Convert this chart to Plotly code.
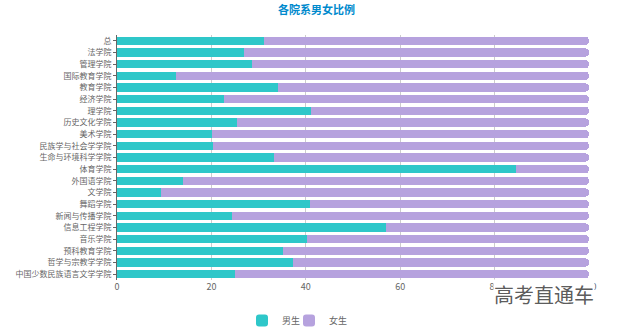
import plotly.graph_objects as go

categories = ["总", "法学院", "管理学院", "国际教育学院", "教育学院", "经济学院", "理学院",
              "历史文化学院", "美术学院", "民族学与社会学学院", "生命与环境科学学院", "体育学院",
              "外国语学院", "文学院", "舞蹈学院", "新闻与传播学院", "信息工程学院", "音乐学院",
              "预科教育学院", "哲学与宗教学学院", "中国少数民族语言文学学院"]
male = [31.1, 26.8, 28.6, 12.5, 34.1, 22.7, 41.1, 25.4, 20.2, 20.3, 33.3,
        84.5, 13.9, 9.4, 40.8, 24.4, 56.9, 40.2, 35.1, 37.2, 25.1]
female = [round(100 - m, 1) for m in male]
x_ticks = [0, 20, 40, 60, 80, 100]

font_family = "Noto Sans CJK SC, Noto Sans, sans-serif"

fig = go.Figure()
fig.add_trace(go.Bar(y=categories, x=male, name="男生", orientation="h", legend="legend",
                     marker=dict(color="#2ec7c9", line=dict(width=0))))
fig.add_trace(go.Bar(y=categories, x=female, name="女生", orientation="h", legend="legend2",
                     marker=dict(color="#b6a2de", line=dict(width=0))))

leg_common = dict(orientation="h", xref="container", yref="container", y=0.02,
                  yanchor="middle", xanchor="left", font=dict(size=9, color="#666"),
                  itemwidth=30, bgcolor="rgba(0,0,0,0)")

fig.update_layout(
    width=633, height=327,
    margin=dict(l=117, r=44, t=35, b=47),
    barmode="stack", bargap=0.3, barcornerradius=4,
    paper_bgcolor="white", plot_bgcolor="white",
    font=dict(family=font_family, size=9, color="#666"),
    title=dict(text="<b>各院系男女比例</b>", x=0.5, xanchor="center", y=0.968, yanchor="middle",
               yref="container", font=dict(size=11, color="#008acd", family=font_family)),
    showlegend=True,
    legend=dict(x=242 / 633, **leg_common),
    legend2=dict(x=289 / 633, **leg_common),
    xaxis=dict(range=[0, 100], tickvals=x_ticks, showgrid=True, gridcolor="#cccccc",
               gridwidth=1, zeroline=False, showline=False, ticks="",
               tickfont=dict(size=9, color="#666")),
    yaxis=dict(autorange="reversed", showline=True, linecolor="#666", linewidth=1,
               ticks="outside", ticklen=3, tickcolor="#666", showgrid=False,
               automargin=False, tickfont=dict(size=8, color="#666")),
)
fig.add_annotation(text="高考直通车", xref="paper", yref="paper", x=1.012, y=0.006,
                   xanchor="right", yanchor="top", showarrow=False, bgcolor="white",
                   borderpad=0,
                   font=dict(size=20, color="rgba(70,70,70,0.9)", family=font_family))

fig.write_html("out.html")
